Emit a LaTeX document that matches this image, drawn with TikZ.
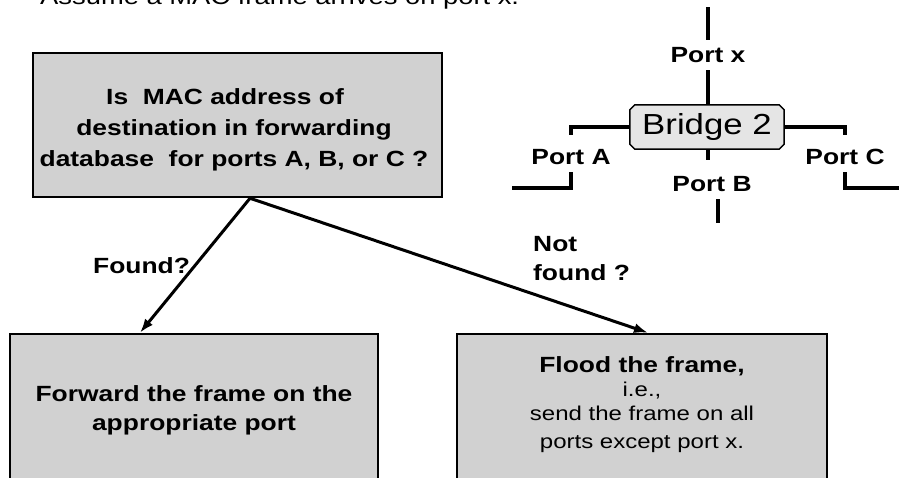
\documentclass[tikz,border=0pt]{standalone}
\usepackage{fontspec}
\setmainfont{Liberation Sans}[FakeStretch=1.2]
\usetikzlibrary{arrows.meta,calc,backgrounds}
\definecolor{boxgray}{gray}{0.82}
\definecolor{brgray}{gray}{0.9}
\begin{document}
\begin{tikzpicture}[x=1pt,y=-1pt,
  box/.style={draw=black, line width=2.5pt, fill=boxgray, inner sep=0pt},
  lbl/.style={font=\fontsize{22}{29}\selectfont\bfseries, inner sep=0pt},
  port/.style={font=\fontsize{22}{26}\selectfont\bfseries, inner xsep=0pt, inner ysep=8pt, text depth=0pt, anchor=base},
  wire/.style={line width=3.3pt},
  arr/.style={line width=3pt, -{Latex[length=14pt,width=10pt]}}
]
\clip (0,0) rectangle (899,477);

% title (cut at top)
\node[anchor=base west, inner sep=0pt, font=\fontsize{22.8}{27}\selectfont] (tt) at (40,4) {Assume a MAC frame arrives on port x.};

% decision box
\node[box, minimum width=409pt, minimum height=144pt] (q) at (237.5,125) {};
\node[inner sep=0pt, align=center, font=\fontsize{22}{31}\selectfont\bfseries] (qt) at (234,130.3)
  {Is~~MAC address of\hspace*{18pt}\\destination in forwarding\\database~~for ports A, B, or C ?};

% result boxes
\node[box, minimum width=368pt, minimum height=156pt] (fwd) at (194,412) {};
\node[inner sep=0pt, align=center, font=\fontsize{22}{29}\selectfont\bfseries] (ft) at (194,410)
  {Forward the frame on the\\appropriate port};
\node[box, minimum width=370pt, minimum height=156pt] (fl) at (642,412) {};
\node[inner sep=0pt, align=center, font=\fontsize{20}{24}\selectfont] (flt) at (642,404.1)
  {{\fontsize{22}{24}\selectfont\bfseries Flood the frame,}\\i.e.,\\send the frame on all\\[4pt]ports except port x.};

% arrows
\coordinate (qs) at (250,197);
\draw[arr] (qs |- q.south) -- (140,0 |- fwd.north);
\draw[arr] (qs |- q.south) -- (648,0 |- fl.north);
\node[lbl, anchor=base west] (lf) at (93,273) {Found?};
\node[lbl, align=left, anchor=north west] (ln) at (533,236) {Not\\found ?};

% bridge
\node[inner sep=0pt, minimum width=154pt, minimum height=44pt, font=\fontsize{29}{32}\selectfont] (br) at (707,127) {Bridge 2};
\begin{scope}[on background layer]
\filldraw[fill=brgray, draw=black, line width=1.5pt]
  ($(br.north west)+(5,0)$) -- ($(br.north east)+(-5,0)$) -- ($(br.north east)+(0,5)$) --
  ($(br.south east)+(0,-5)$) -- ($(br.south east)+(-5,0)$) -- ($(br.south west)+(5,0)$) --
  ($(br.south west)+(0,-5)$) -- ($(br.north west)+(0,5)$) -- cycle;
\end{scope}

\node[port, text height=14pt] (px) at (708,62) {Port x};
\node[port, text height=21pt] (pa) at (571,164) {Port A};
\node[port, text height=21pt] (pc) at (845,164) {Port C};
\node[port, text height=23pt] (pb) at (712,191) {Port B};

\coordinate (xtop) at (708,7);
\coordinate (aend) at (512,188);
\coordinate (cend) at (905,188);
\coordinate (bend) at (718,223);

\draw[wire] (px.north) -- (xtop);
\draw[wire] (px.south) -- (px.south |- br.north);
\draw[wire] (br.west) -| (pa.north);
\draw[wire] (pa.south) |- (aend);
\draw[wire] (br.east) -| (pc.north);
\draw[wire] (pc.south) |- (cend);
\draw[wire] ([xshift=1pt]br.south) -- ([xshift=1pt]br.south |- pb.north);
\draw[wire] (bend |- pb.south) -- (bend);
\end{tikzpicture}
\end{document}
